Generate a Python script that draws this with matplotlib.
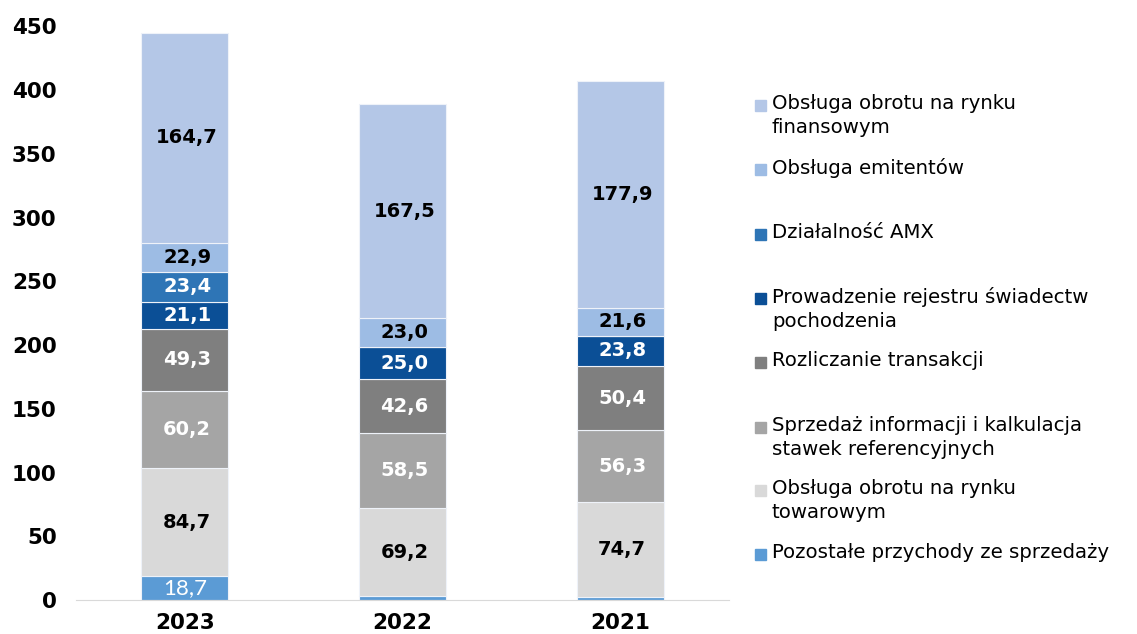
import numpy as np
import matplotlib
matplotlib.use("Agg")
import matplotlib.pyplot as plt
from matplotlib.patches import Rectangle

# data (mln zł), bottom -> top
years = ["2023", "2022", "2021"]
pozostale = [18.7, 3.0, 2.2]
towarowy = [84.7, 69.2, 74.7]
informacje = [60.2, 58.5, 56.3]
rozliczanie = [49.3, 42.6, 50.4]
rejestr = [21.1, 25.0, 23.8]
amx = [23.4, 0.0, 0.0]
emitenci = [22.9, 23.0, 21.6]
finansowy = [164.7, 167.5, 177.9]

series = [pozostale, towarowy, informacje, rozliczanie, rejestr, amx, emitenci, finansowy]
names = ["Pozostałe przychody ze sprzedaży",
         "Obsługa obrotu na rynku\ntowarowym",
         "Sprzedaż informacji i kalkulacja\nstawek referencyjnych",
         "Rozliczanie transakcji",
         "Prowadzenie rejestru świadectw\npochodzenia",
         "Działalność AMX",
         "Obsługa emitentów",
         "Obsługa obrotu na rynku\nfinansowym"]
colors = ["#5B9BD5", "#D9D9D9", "#A5A5A5", "#7F7F7F", "#0B4F96", "#2E75B6", "#9DBCE4", "#B4C7E7"]
label_colors = ["white", "black", "white", "white", "white", "white", "black", "black"]

fig = plt.figure(figsize=(11.37, 6.34), dpi=100)
ax = fig.add_axes([0.067, 0.0536, 0.574, 0.905])

x = np.arange(len(years))
bottom = np.zeros(len(years))
for vals, c, lc, i in zip(series, colors, label_colors, range(len(series))):
    vals = np.array(vals)
    ax.bar(x, vals, 0.4, bottom=bottom, color=c, edgecolor="#EEF2F9", linewidth=0.8)
    for xi, v, b in zip(x, vals, bottom):
        if v < 10:
            continue
        txt = f"{v:.1f}".replace(".", ",")
        if i == 0:
            ax.text(xi, b + v / 2, txt, ha="center", va="center", color=lc,
                    fontsize=16, family="Lato")
        else:
            ax.text(xi + 0.01, b + v / 2, txt, ha="center", va="center", color=lc,
                    fontsize=14, fontweight="bold")
    bottom += vals

ax.set_xlim(-0.5, 2.5)
ax.set_ylim(0, 450)
ax.set_yticks(range(0, 451, 50))
ax.set_xticks(x)
ax.set_xticklabels(years)
for s in ["top", "right", "left"]:
    ax.spines[s].set_visible(False)
ax.spines["bottom"].set_color("#D9D9D9")
ax.tick_params(axis="both", length=0, labelsize=15.5)
ax.tick_params(axis="y", pad=14)
ax.tick_params(axis="x", pad=9)
for lab in ax.get_xticklabels() + ax.get_yticklabels():
    lab.set_fontweight("bold")

# legend (top entry first)
W, H = 1137, 634
ys = [105, 169, 234, 298, 362, 427, 490, 554]
for y, name, c in zip(ys, names[::-1], colors[::-1]):
    fig.patches.append(Rectangle(((755) / W, 1 - (y + 6) / H), 11 / W, 11 / H,
                                 transform=fig.transFigure, color=c))
    fig.text(772 / W, 1 - (y - 11) / H, name, ha="left", va="top",
             fontsize=14.2, linespacing=1.32)

fig.savefig("out.png", dpi=100)
